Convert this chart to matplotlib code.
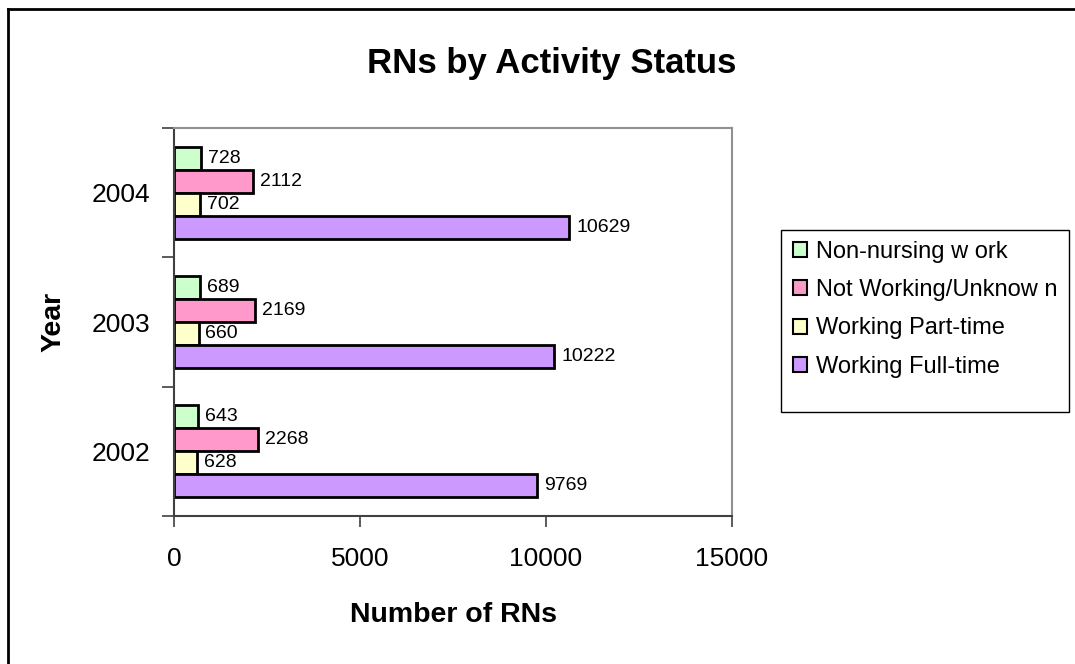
import matplotlib
matplotlib.use("Agg")
import matplotlib.pyplot as plt
import numpy as np
from matplotlib.lines import Line2D
from matplotlib.patches import Rectangle

plt.rcParams['font.family'] = ['Liberation Sans', 'DejaVu Sans']

years = ['2002', '2003', '2004']
series = ['Non-nursing w ork', 'Not Working/Unknow n', 'Working Part-time', 'Working Full-time']
non_nursing = [643, 689, 728]
not_working = [2268, 2169, 2112]
part_time = [628, 660, 702]
full_time = [9769, 10222, 10629]
colors = ['#CCFFCC', '#FF99CC', '#FFFFCC', '#CC99FF']

fig = plt.figure(figsize=(10.75, 6.64), dpi=100)
ax = fig.add_axes([174 / 1075, 1 - 516 / 664, 558 / 1075, 388 / 664])

y = np.arange(len(years))
h = 0.178
offsets = [1.5 * h, 0.5 * h, -0.5 * h, -1.5 * h]
values = [non_nursing, not_working, part_time, full_time]
for vals, off, col, name in zip(values, offsets, colors, series):
    bars = ax.barh(y + off, vals, height=h, color=col, edgecolor='black',
                   linewidth=2, label=name)
    for b, v in zip(bars, vals):
        ax.annotate(str(v), (v, b.get_y() + b.get_height() / 2),
                    xytext=(5, 0), textcoords='offset points',
                    va='center', ha='left', fontsize=14)

ax.set_xlim(0, 15000)
ax.set_ylim(-0.5, 2.5)
ax.set_xticks([0, 5000, 10000, 15000])
ax.set_xticklabels(['0', '5000', '10000', '15000'])
ax.tick_params(axis='x', direction='out', length=8, width=1.2,
               color='#404040', labelsize=19, pad=14)

ax.set_yticks([-0.5, 0.5, 1.5, 2.5])
ax.set_yticklabels([])
ax.set_yticks(y, minor=True)
ax.set_yticklabels(years, minor=True)
ax.tick_params(axis='y', which='major', direction='out', length=9,
               width=1.2, color='#404040')
ax.tick_params(axis='y', which='minor', length=0, labelsize=19, pad=17)

for s in ['left', 'bottom']:
    ax.spines[s].set_color('#404040')
    ax.spines[s].set_linewidth(1.5)
for s in ['top', 'right']:
    ax.spines[s].set_color('#909090')
    ax.spines[s].set_linewidth(1.5)

ax.set_xlabel('Number of RNs', fontsize=20.5, fontweight='bold')
ax.xaxis.set_label_coords(0.5, -0.222)
ax.set_ylabel('Year', fontsize=20.5, fontweight='bold')
ax.yaxis.set_label_coords(-0.192, 0.5)

fig.text(552 / 1075, 1 - 63 / 664, 'RNs by Activity Status', fontsize=25,
         fontweight='bold', ha='center', va='center')

handles, labels = ax.get_legend_handles_labels()
leg = fig.legend(handles, labels, loc='upper left',
                 bbox_to_anchor=(781 / 1075, 1 - 229 / 664),
                 fontsize=17, frameon=False,
                 handlelength=0.6, handleheight=0.6, handletextpad=0.4,
                 labelspacing=0.69, borderpad=0.5, borderaxespad=0)
for p in leg.get_patches():
    p.set_linewidth(1.5)

# legend box (Excel leaves extra room below the entries)
fig.add_artist(Rectangle((781 / 1075, 1 - 412 / 664), 288 / 1075, 182 / 664,
                         transform=fig.transFigure, fill=False,
                         edgecolor='black', linewidth=1.0))

# outer chart border (left and top edges visible)
fig.add_artist(Line2D([8 / 1075, 8 / 1075], [0, 1 - 9 / 664],
                      transform=fig.transFigure, color='black', linewidth=2))
fig.add_artist(Line2D([8 / 1075, 1], [1 - 9 / 664, 1 - 9 / 664],
                      transform=fig.transFigure, color='black', linewidth=2))

fig.savefig('out.png', dpi=100)
